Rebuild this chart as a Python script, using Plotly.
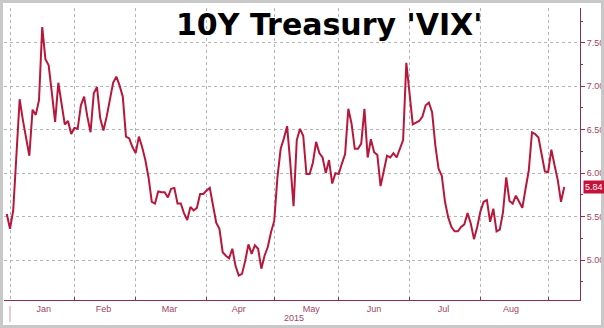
import pandas as pd
import plotly.graph_objects as go

# ---- data -------------------------------------------------------------
HOLIDAYS = ["2015-01-01", "2015-01-19", "2015-02-16", "2015-04-03",
            "2015-05-25", "2015-07-03", "2015-09-07"]
START_DATE = "2014-12-31"
END_DATE = "2015-09-09"

values = [
    5.53,
    5.36, 5.57, 6.21, 6.85, 6.61, 6.38, 6.20, 6.73, 6.67, 6.84,
    7.68, 7.31, 7.24, 6.92, 6.59, 7.04, 6.78, 6.56, 6.60, 6.45,
    6.52, 6.51, 6.78, 6.88, 6.65, 6.47, 6.92, 6.99, 6.63, 6.49,
    6.65, 6.87, 7.04, 7.11, 7.01, 6.88, 6.42, 6.40, 6.30,
    6.23, 6.42, 6.30, 6.15, 5.95, 5.67, 5.65, 5.79, 5.78, 5.78,
    5.72, 5.82, 5.83, 5.65, 5.65, 5.54, 5.46, 5.61, 5.57, 5.60,
    5.76, 5.76,
    5.80, 5.83, 5.63, 5.43, 5.36, 5.09, 5.05, 5.02, 5.13, 4.93,
    4.82, 4.84, 4.99, 5.18, 5.07, 5.17, 5.13, 4.90, 5.05, 5.15,
    5.32,
    5.45, 5.95, 6.28, 6.40, 6.54, 6.11, 5.62, 6.38, 6.51, 6.43,
    5.99, 5.99, 6.12, 6.36, 6.23, 6.18, 6.00, 6.15, 5.88, 6.00,
    5.99, 6.11, 6.22, 6.74, 6.57, 6.28, 6.28, 6.34, 6.74, 6.18,
    6.39, 6.24, 6.21, 5.85, 6.01, 6.20, 6.18, 6.23, 6.18, 6.28,
    6.38, 7.27,
    6.91, 6.56, 6.58, 6.60, 6.65, 6.78, 6.81, 6.70, 6.32, 6.05,
    5.97, 5.67, 5.49, 5.38, 5.33, 5.33, 5.38, 5.41, 5.54, 5.42,
    5.24, 5.38,
    5.56, 5.67, 5.69, 5.44, 5.59, 5.33, 5.35, 5.55, 5.95, 5.68,
    5.65, 5.74, 5.67, 5.60, 5.82, 6.03, 6.47, 6.45, 6.41, 6.22,
    6.02,
    6.01, 6.27, 6.09, 5.92, 5.67, 5.84,
]

dates = [d for d in pd.bdate_range(START_DATE, END_DATE)
         if d.strftime("%Y-%m-%d") not in HOLIDAYS]
assert len(dates) == len(values), (len(dates), len(values))

TITLE = "10Y Treasury 'VIX'"
YEAR_LABEL = "2015"

# ---- style ------------------------------------------------------------
LINE = "#b8173c"
AXIS = "#8e2e52"
LABEL = "#9c4566"
GRID = "#b4b4b4"
FRAME = "#c8c8c8"

fig = go.Figure()
fig.add_trace(go.Scatter(x=dates, y=values, mode="lines",
                         line=dict(color=LINE, width=2),
                         hoverinfo="skip", showlegend=False))

fig.update_layout(
    template="none",
    width=604, height=328, autosize=False,
    margin=dict(l=4, r=24, t=8, b=28, pad=0),
    paper_bgcolor="white", plot_bgcolor="white",
    font=dict(family="Liberation Sans", size=9, color=LABEL),
    showlegend=False,
)

fig.update_xaxes(
    type="date",
    range=["2014-12-30 03:20", "2015-09-15 21:30"],
    rangebreaks=[dict(bounds=["sat", "mon"]), dict(values=HOLIDAYS)],
    tick0="2015-01-01", dtick="M1", tickformat="%b",
    ticklabelmode="period",
    ticks="inside", ticklen=3, tickcolor=AXIS, tickwidth=1,
    showline=True, linecolor=AXIS, linewidth=1,
    showgrid=True, gridcolor=GRID, griddash="dot", gridwidth=1,
    zeroline=False, automargin=False,
    tickfont=dict(family="Liberation Sans", size=9, color=LABEL),
)

fig.update_yaxes(
    side="right",
    range=[4.54, 7.90],
    tick0=5.0, dtick=0.5, tickformat=".2f",
    ticks="outside", ticklen=4, tickcolor=AXIS, tickwidth=1,
    minor=dict(dtick=0.25, ticks="outside", ticklen=2, tickcolor=AXIS, showgrid=False),
    showline=True, linecolor=AXIS, linewidth=1,
    showgrid=True, gridcolor=GRID, griddash="dot", gridwidth=1,
    zeroline=False, automargin=False,
    tickfont=dict(family="Liberation Sans", size=9, color=LABEL),
)

# title inside plot
fig.add_annotation(
    text="<b>" + TITLE + "</b>", xref="paper", yref="paper",
    x=0.565, y=0.945, xanchor="center", yanchor="middle", showarrow=False,
    font=dict(family="DejaVu Sans", size=30, color="black"),
)

# year label under months
fig.add_annotation(
    text=YEAR_LABEL, xref="paper", yref="paper",
    x=0.503, y=-0.062, xanchor="center", yanchor="middle", showarrow=False,
    font=dict(family="Liberation Sans", size=9, color=LABEL),
)

# last value tag
fig.add_annotation(
    text=f"{values[-1]:.2f}", xref="paper", yref="y",
    x=1, y=values[-1], xanchor="left", yanchor="middle", showarrow=False,
    xshift=3, bgcolor="#c4123a", borderpad=1,
    font=dict(family="Liberation Sans", size=9, color="white"),
)

# year divider tick
fig.add_shape(type="line", xref="x", yref="paper",
              x0="2015-01-01", x1="2015-01-01", y0=-0.02, y1=-0.075,
              line=dict(color="#d09aac", width=1))

# outer frame
fig.add_shape(type="rect", xref="paper", yref="paper",
              x0=-0.0043, x1=1.0391, y0=-0.0908, y1=1.0223,
              line=dict(color=FRAME, width=3), layer="above")

fig.write_html("out.html")
